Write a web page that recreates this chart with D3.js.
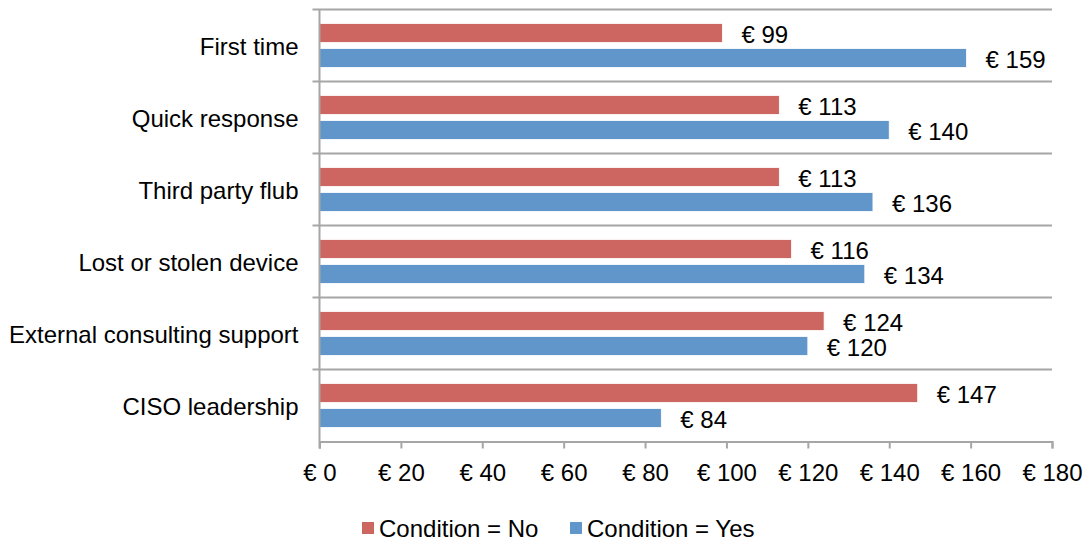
<!DOCTYPE html>
<html>
<head>
<meta charset="utf-8">
<script src="https://cdn.jsdelivr.net/npm/d3@7"></script>
<style>
  body { margin: 0; background: #fff; }
  text { font-family: "Liberation Sans", Arial, sans-serif; fill: #000; }
</style>
</head>
<body>
<div id="chart"></div>
<script>
// chart data
const categories = ["First time", "Quick response", "Third party flub", "Lost or stolen device", "External consulting support", "CISO leadership"];
const valuesNo = [99, 113, 113, 116, 124, 147];
const valuesYes = [159, 140, 136, 134, 120, 84];
const seriesNames = ["Condition = No", "Condition = Yes"];
const xTicks = [0, 20, 40, 60, 80, 100, 120, 140, 160, 180];

const colors = ["#CD6661", "#6096CA"];
const width = 1088, height = 544;
const margin = { top: 9.5, right: 36, bottom: 102.5, left: 319.5 };
const plotW = width - margin.left - margin.right,
      plotH = height - margin.top - margin.bottom;
const fontSize = "24px";

const svg = d3.select("#chart").append("svg")
    .attr("width", width)
    .attr("height", height);

const g = svg.append("g")
    .attr("transform", `translate(${margin.left},${margin.top})`);

const x = d3.scaleLinear().domain([0, 180]).range([0, plotW]);
const y = d3.scaleBand().domain(categories).range([0, plotH]);
const inner = d3.scaleBand().domain([0, 1]).range([14, y.bandwidth() - 14]).paddingInner(0.24);

// horizontal separators between categories
const bounds = categories.map(c => y(c));
g.selectAll(".sep")
  .data(bounds)
  .join("line")
    .attr("x1", -7).attr("x2", plotW)
    .attr("y1", d => d).attr("y2", d => d)
    .attr("stroke", "#A6A6A6").attr("stroke-width", 2);

const rows = categories.map((c, i) => ({ cat: c, vals: [valuesNo[i], valuesYes[i]] }));

const grp = g.selectAll(".row")
  .data(rows)
  .join("g")
    .attr("transform", d => `translate(0,${y(d.cat)})`);

grp.selectAll("rect")
  .data(d => d.vals.map((v, k) => ({ v, k })))
  .join("rect")
    .attr("x", 0)
    .attr("y", d => inner(d.k))
    .attr("width", d => x(d.v))
    .attr("height", inner.bandwidth())
    .attr("fill", d => colors[d.k])
    .attr("stroke", "#fff")
    .attr("stroke-width", 0.8);

grp.selectAll(".lbl")
  .data(d => d.vals.map((v, k) => ({ v, k })))
  .join("text")
    .attr("class", "lbl")
    .attr("x", d => x(d.v) + 19)
    .attr("y", d => inner(d.k) + inner.bandwidth() / 2 + 3.5)
    .attr("dominant-baseline", "middle")
    .style("font-size", fontSize)
    .text(d => "€ " + d.v);

// category labels
g.selectAll(".cat")
  .data(categories)
  .join("text")
    .attr("x", -21)
    .attr("y", d => y(d) + y.bandwidth() / 2 + 3)
    .attr("text-anchor", "end")
    .attr("dominant-baseline", "middle")
    .style("font-size", fontSize)
    .text(d => d);

// left axis line
g.append("line")
  .attr("x1", 0).attr("x2", 0)
  .attr("y1", 0).attr("y2", plotH + 7)
  .attr("stroke", "#A6A6A6").attr("stroke-width", 2);

// bottom axis
const xAxis = g.append("g")
  .attr("transform", `translate(0,${plotH})`)
  .call(d3.axisBottom(x).tickValues(xTicks).tickSize(7).tickPadding(15).tickFormat(d => "€ " + d));
xAxis.select(".domain").attr("stroke", "#A6A6A6").attr("stroke-width", 2);
xAxis.selectAll(".tick line").attr("stroke", "#A6A6A6").attr("stroke-width", 2);
xAxis.selectAll(".tick text")
  .style("font-size", fontSize)
  .style("font-family", "'Liberation Sans', Arial, sans-serif")
  .attr("fill", "#000");

// legend
const legend = svg.append("g").attr("transform", "translate(362,530)");
const legX = [0, 208];
seriesNames.forEach((name, i) => {
  legend.append("rect")
    .attr("x", legX[i]).attr("y", -8)
    .attr("width", 12).attr("height", 12)
    .attr("fill", colors[i]);
  legend.append("text")
    .attr("x", legX[i] + 17).attr("y", 1)
    .attr("dominant-baseline", "middle")
    .style("font-size", fontSize)
    .text(name);
});
</script>
</body>
</html>
